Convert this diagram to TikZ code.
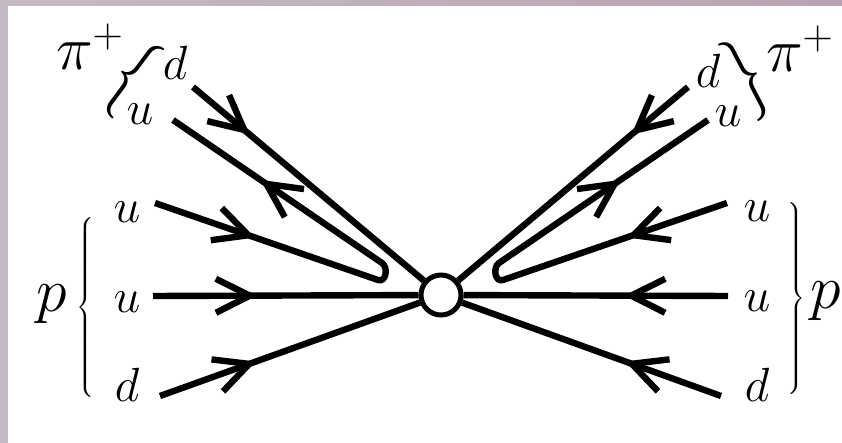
\RequirePackage{fix-cm}
\documentclass[tikz,border=0pt]{standalone}
\usetikzlibrary{arrows.meta,decorations.markings}
\definecolor{frameleft}{RGB}{197,186,196}
\definecolor{frameright}{RGB}{186,163,178}
\tikzset{
  quark/.style={line width=3.2pt},
  tipat/.style={postaction={decorate,decoration={markings,
      mark=at position #1 with {\arrow{Straight Barb[length=17pt,width=17pt]}}}}},
  flav/.style={font=\fontsize{24}{24}\selectfont,anchor=base,inner sep=0pt},
  hadron/.style={font=\fontsize{31}{31}\selectfont,anchor=base,inner sep=0pt},
  pbrace/.style={font=\fontsize{13}{13}\selectfont,inner sep=0pt},
  pibrace/.style={font=\fontsize{30}{30}\selectfont,inner sep=0pt},
}
\newcommand{\pplus}{\hbox{\fontsize{21}{21}\selectfont$+$}}
\begin{document}
\begin{tikzpicture}[x=0.5pt,y=-0.5pt]
\useasboundingbox (0,0) rectangle (842,443);
\shade[left color=frameleft,right color=frameright] (0,0) rectangle (842,6);
\fill[frameleft] (0,0) rectangle (8,443);
% vertex
\node[draw,circle,line width=2.5pt,fill=white,inner sep=0pt,minimum size=20pt] (v) at (441,295) {};
% free ends of the quark lines
\coordinate (uL1) at (155,203); \coordinate (uR1) at (727,203);
\coordinate (uL2) at (153,296); \coordinate (uR2) at (728,296);
\coordinate (dL) at (160,396);  \coordinate (dR) at (721,396);
\coordinate (piLd) at (193,87); \coordinate (piRd) at (688,87);
\coordinate (piLu) at (173,120); \coordinate (piRu) at (708,120);
\coordinate (hpL1) at (378,280); \coordinate (hpL2) at (382,263);
\coordinate (hpR1) at (503,280); \coordinate (hpR2) at (499,263);
% left side
\draw[quark,tipat=52pt] (uL2) -- (v);
\draw[quark,tipat=51pt] (dL) -- (v);
\draw[quark,tipat=37pt] (piLd) -- (v);
\draw[quark,tipat=53pt,tipat=-53pt] (uL1) -- (hpL1) .. controls +(8,2.8) and +(6.6,4.5) .. (hpL2) -- (piLu);
% right side
\draw[quark,tipat=52pt] (uR2) -- (v);
\draw[quark,tipat=51pt] (dR) -- (v);
\draw[quark,tipat=37pt] (piRd) -- (v);
\draw[quark,tipat=53pt,tipat=-53pt] (uR1) -- (hpR1) .. controls +(-8,2.8) and +(-6.6,4.5) .. (hpR2) -- (piRu);
% labels
\node[flav] (qL1) at (127,223) {$u$};
\node[flav] (qL2) at (127,313) {$u$};
\node[flav] (qL3) at (127,402) {$d$};
\node[flav] (qR1) at (757,222) {$u$};
\node[flav] (qR2) at (757,312) {$u$};
\node[flav] (qR3) at (757,402) {$d$};
\node[flav] (qpiL1) at (175,80) {$d$};
\node[flav] (qpiL2) at (140,125) {$u$};
\node[flav] (qpiR1) at (708,88) {$d$};
\node[flav] (qpiR2) at (728,127) {$u$};
\node[hadron] (pL) at (52,312) {$p$};
\node[hadron] (pR) at (826,309) {$p$};
\node[hadron] (piL) at (90,70) {$\pi^{\pplus}$};
\node[hadron] (piR) at (800,72) {$\pi^{\pplus}$};
% braces
\node[pbrace] (bL) at (87,308) {$\left\{\vcenter{\hbox{\rule{0pt}{95pt}}}\right.$};
\node[pbrace] (bR) at (795,299) {$\left.\vcenter{\hbox{\rule{0pt}{101pt}}}\right\}$};
\node[pibrace,rotate=-36.6,yscale=1.45,transform shape] (bpiL) at (131,78) {$\{$};
\node[pibrace,rotate=27.5,yscale=1.45,transform shape] (bpiR) at (748,78) {$\}$};
\end{tikzpicture}
\end{document}
